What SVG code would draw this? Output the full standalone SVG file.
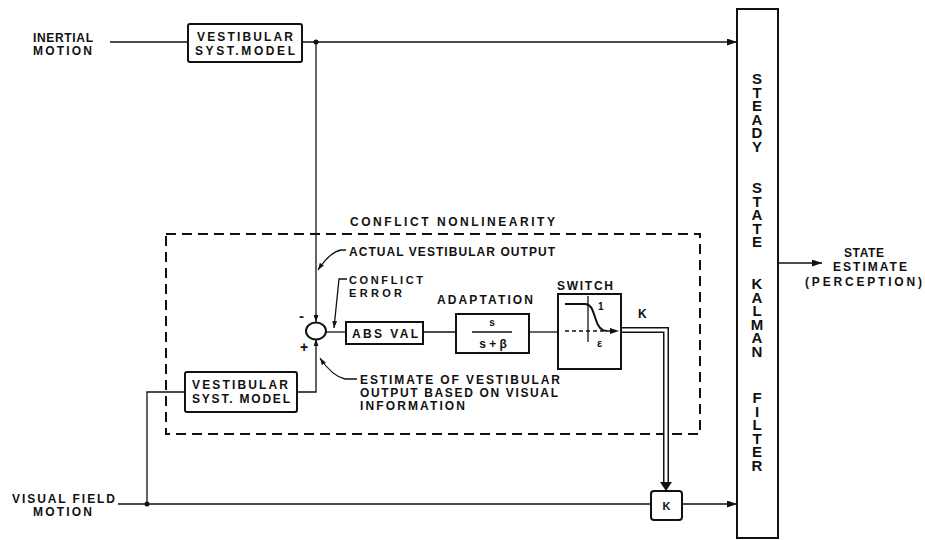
<svg xmlns="http://www.w3.org/2000/svg" width="925" height="540" viewBox="0 0 925 540">
<defs>
<marker id="ah" viewBox="0 0 10 7" refX="10" refY="3.5" markerWidth="10" markerHeight="7" markerUnits="userSpaceOnUse" orient="auto"><path d="M0,0 L10,3.5 L0,7 z" fill="#111"/></marker>
<marker id="ahs" viewBox="0 0 10 7" refX="10" refY="3.5" markerWidth="7" markerHeight="5" markerUnits="userSpaceOnUse" orient="auto"><path d="M0,0 L10,3.5 L0,7 z" fill="#111"/></marker>
</defs>
<style>
.t{font-family:"Liberation Sans",Arial,sans-serif;font-weight:bold;fill:#111;font-size:12px}
.k{font-family:"Liberation Sans",Arial,sans-serif;font-weight:bold;fill:#111;font-size:15px;writing-mode:vertical-rl;text-orientation:upright;letter-spacing:-3.5px}
.box{fill:#fff;stroke:#111;stroke-width:2}
.ln{fill:none;stroke:#111;stroke-width:1.3}
.dot{fill:#111}
</style>
<rect width="925" height="540" fill="#fff"/>

<g id="conflict-nonlinearity">
<rect x="166" y="234" width="534" height="200" fill="none" stroke="#111" stroke-width="2" stroke-dasharray="10 6"/>
<text class="t" x="350" y="226" textLength="205" lengthAdjust="spacing">CONFLICT NONLINEARITY</text>
</g>

<g id="connectors">
<path class="ln" d="M110 42 H188"/>
<path class="ln" d="M302 42 H737" marker-end="url(#ah)"/>
<path class="ln" d="M316 42 V322" marker-end="url(#ahs)"/>
<path class="ln" d="M297 392 H316 V339" marker-end="url(#ahs)"/>
<path class="ln" d="M326 332 H346"/>
<path class="ln" d="M423 332 H456"/>
<path class="ln" d="M529 332 H558"/>
<path d="M621 330 H666 V486" fill="none" stroke="#111" stroke-width="6"/>
<path d="M621 330 H666 V486" fill="none" stroke="#fff" stroke-width="3"/>
<polygon points="660,482 672,482 666,491" fill="#111"/>
<path class="ln" d="M118 504 H651"/>
<path class="ln" d="M682 504 H737" marker-end="url(#ah)"/>
<path class="ln" d="M147 504 V392 H185"/>
<path class="ln" d="M778 263 H822" marker-end="url(#ah)"/>
<circle class="dot" cx="316" cy="42" r="2.5"/>
<circle class="dot" cx="147" cy="504" r="2.5"/>
<path class="ln" d="M346 250 H341 Q330 252 318 270" marker-end="url(#ahs)"/>
<path class="ln" d="M347 279 H339 L334 328" marker-end="url(#ahs)"/>
<path class="ln" d="M357 379 H345 Q332 376 320 358" marker-end="url(#ahs)"/>
</g>

<g id="inertial-motion">
<text class="t" x="33" y="42" textLength="60" lengthAdjust="spacing">INERTIAL</text>
<text class="t" x="33" y="55" textLength="59" lengthAdjust="spacing">MOTION</text>
</g>

<g id="visual-field-motion">
<text class="t" x="12" y="503" textLength="103" lengthAdjust="spacing">VISUAL FIELD</text>
<text class="t" x="33" y="516" textLength="59" lengthAdjust="spacing">MOTION</text>
</g>

<g id="vestibular-model-top">
<rect class="box" x="188" y="24" width="114" height="38" rx="2"/>
<text class="t" x="197" y="41" textLength="96" lengthAdjust="spacing">VESTIBULAR</text>
<text class="t" x="195" y="55" textLength="100" lengthAdjust="spacing">SYST.MODEL</text>
</g>

<g id="vestibular-model-bottom">
<rect class="box" x="185" y="372" width="112" height="40" rx="2"/>
<text class="t" x="192" y="389" textLength="96" lengthAdjust="spacing">VESTIBULAR</text>
<text class="t" x="192" y="403" textLength="98" lengthAdjust="spacing">SYST. MODEL</text>
</g>

<g id="summing-junction">
<ellipse cx="316" cy="331" rx="10" ry="8.5" fill="#fff" stroke="#111" stroke-width="2"/>
<text class="t" x="299" y="321" style="font-size:15px">-</text>
<text class="t" x="300" y="352" style="font-size:14px">+</text>
</g>

<g id="labels">
<text class="t" x="349" y="256" textLength="206" lengthAdjust="spacing">ACTUAL VESTIBULAR OUTPUT</text>
<text class="t" x="349" y="284" textLength="74" lengthAdjust="spacing" style="font-size:11px">CONFLICT</text>
<text class="t" x="349" y="297" textLength="53" lengthAdjust="spacing" style="font-size:11px">ERROR</text>
<text class="t" x="360" y="384" textLength="200" lengthAdjust="spacing">ESTIMATE OF VESTIBULAR</text>
<text class="t" x="360" y="397" textLength="198" lengthAdjust="spacing">OUTPUT BASED ON VISUAL</text>
<text class="t" x="360" y="410" textLength="105" lengthAdjust="spacing">INFORMATION</text>
</g>

<g id="abs-val">
<rect class="box" x="346" y="322" width="77" height="22"/>
<text class="t" x="352" y="338" textLength="66" lengthAdjust="spacing">ABS VAL</text>
</g>

<g id="adaptation">
<text class="t" x="437" y="304" textLength="96" lengthAdjust="spacing">ADAPTATION</text>
<rect class="box" x="456" y="314" width="73" height="39"/>
<text class="t" x="492" y="326" text-anchor="middle" style="font-size:10px">s</text>
<line x1="472" y1="332" x2="512" y2="332" stroke="#111" stroke-width="1.5"/>
<text class="t" x="493" y="348" text-anchor="middle" style="font-size:12px">s + β</text>
</g>

<g id="switch">
<text class="t" x="557" y="290" textLength="56" lengthAdjust="spacing">SWITCH</text>
<rect class="box" x="558" y="294" width="63" height="75"/>
<path d="M565 331 H612" fill="none" stroke="#111" stroke-width="1.3" stroke-dasharray="4 3"/>
<polygon points="610,328 619,331 610,334" fill="#111"/>
<path class="ln" d="M588 296 V342"/>
<path d="M565 304 H585 C592 304 593 312 596 320 C598 327 601 331 607 331" fill="none" stroke="#111" stroke-width="2"/>
<text class="t" x="598" y="310" style="font-size:10px">1</text>
<text class="t" x="597" y="347" style="font-size:11px">ε</text>
<text class="t" x="638" y="318" style="font-size:12px">K</text>
</g>

<g id="gain-k">
<rect class="box" x="651" y="491" width="31" height="29" rx="3"/>
<text class="t" x="666.5" y="510" text-anchor="middle" style="font-size:11px">K</text>
</g>

<g id="kalman-filter">
<rect class="box" x="737" y="9" width="41" height="529"/>
<text class="k" x="757" y="70">STEADY</text>
<text class="k" x="757" y="179">STATE</text>
<text class="k" x="757" y="275">KALMAN</text>
<text class="k" x="757" y="389">FILTER</text>
</g>

<g id="state-estimate">
<text class="t" x="844" y="257" textLength="40" lengthAdjust="spacing">STATE</text>
<text class="t" x="833" y="271" textLength="74" lengthAdjust="spacing">ESTIMATE</text>
<text class="t" x="805" y="286" textLength="117" lengthAdjust="spacing">(PERCEPTION)</text>
</g>
</svg>
